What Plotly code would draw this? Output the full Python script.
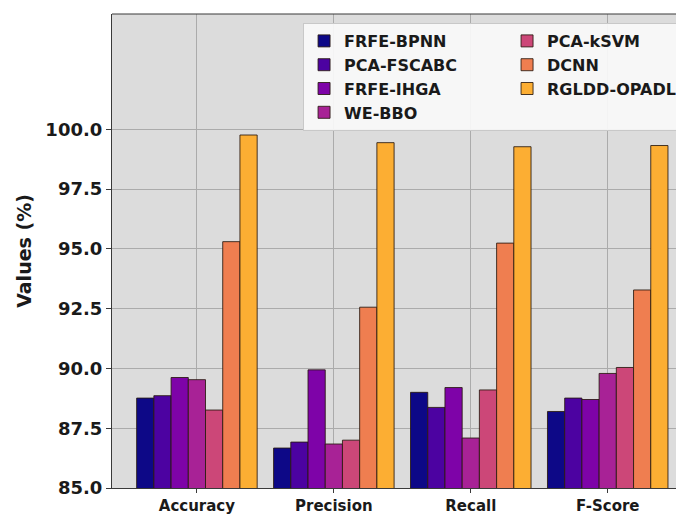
import plotly.graph_objects as go

categories = ["Accuracy", "Precision", "Recall", "F-Score"]
methods = ["FRFE-BPNN", "PCA-FSCABC", "FRFE-IHGA", "WE-BBO", "PCA-kSVM", "DCNN", "RGLDD-OPADL"]

frfe_bpnn = [88.76, 86.67, 89.00, 88.20]
pca_fscabc = [88.86, 86.92, 88.37, 88.76]
frfe_ihga = [89.62, 89.94, 89.20, 88.70]
we_bbo = [89.53, 86.84, 87.09, 89.79]
pca_ksvm = [88.26, 87.00, 89.10, 90.04]
dcnn = [95.30, 92.56, 95.24, 93.28]
rgldd_opadl = [99.76, 99.44, 99.27, 99.32]

series = [frfe_bpnn, pca_fscabc, frfe_ihga, we_bbo, pca_ksvm, dcnn, rgldd_opadl]
colors = ["#0d0887", "#4c02a1", "#7e03a8", "#a82296", "#cc4778", "#ef7e50", "#fcae33"]
# legend arranged column-wise (2 columns: 4 + 3)
legend_ranks = [1, 3, 5, 7, 2, 4, 6]

yticks = [85.0, 87.5, 90.0, 92.5, 95.0, 97.5, 100.0]

FONT = "DejaVu Sans"

fig = go.Figure()
for name, vals, col, rk in zip(methods, series, colors, legend_ranks):
    fig.add_trace(go.Bar(
        x=categories, y=vals, name=name,
        marker=dict(color=col, line=dict(color="rgba(40,25,15,0.85)", width=1)),
        legendrank=rk,
    ))

# the page body has an 8px margin, so the figure is sized to fit the window
fig.update_layout(
    width=676, height=507,
    margin=dict(l=104, r=0, t=6, b=27, autoexpand=False),
    paper_bgcolor="white",
    plot_bgcolor="#dcdcdc",
    barmode="group",
    bargap=0.12,
    bargroupgap=0.0,
    font=dict(family=FONT, color="#1a1a1a"),
    legend=dict(
        orientation="h",
        x=0.334, y=0.981, xanchor="left", yanchor="top",
        entrywidth=158, entrywidthmode="pixels",
        bgcolor="rgba(248,248,248,0.92)",
        bordercolor="#c8c8c8", borderwidth=1,
        font=dict(family=FONT, size=16, weight="bold", color="#1a1a1a"),
        traceorder="normal",
    ),
    showlegend=True,
)

fig.update_xaxes(
    range=[-0.62, 3.557],
    showgrid=True, gridcolor="#ababab", gridwidth=1,
    showline=True, linecolor="#3a3a3a", linewidth=1.2,
    ticks="outside", ticklen=4, tickcolor="#3a3a3a",
    tickfont=dict(family=FONT, size=15, weight="bold", color="#1a1a1a"),
    zeroline=False,
)
fig.update_yaxes(
    range=[85.0, 104.82],
    tickvals=yticks,
    ticktext=[f"{v:.1f}" for v in yticks],
    showgrid=True, gridcolor="#ababab", gridwidth=1,
    showline=True, linecolor="#3a3a3a", linewidth=1.2,
    ticks="outside", ticklen=5, tickcolor="#3a3a3a",
    tickfont=dict(family=FONT, size=18, weight="bold", color="#1a1a1a"),
    title=dict(text="Values (%)", standoff=8,
               font=dict(family=FONT, size=19, weight="bold", color="#1a1a1a")),
    zeroline=False,
)

# top frame line of the plot area
fig.add_shape(type="line", xref="paper", yref="paper", x0=0, x1=1, y0=1, y1=1,
              line=dict(color="#3a3a3a", width=1.2))

fig.write_html("out.html")
